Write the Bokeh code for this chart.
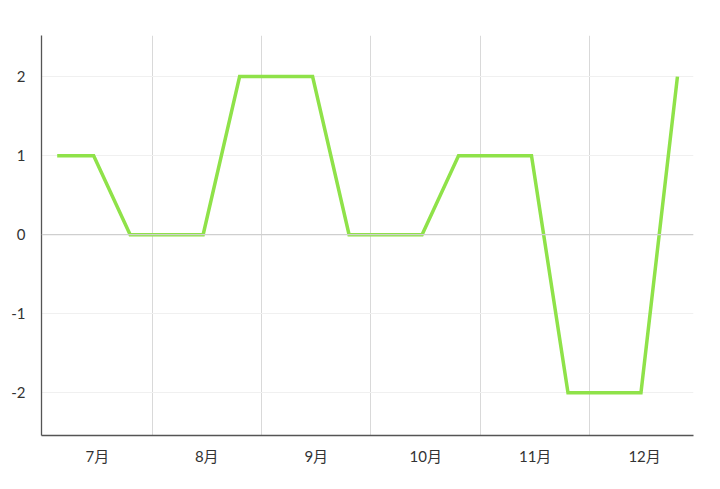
from bokeh.plotting import figure
from bokeh.models import FixedTicker, Span, Range1d
from bokeh.embed import file_html
from bokeh.resources import INLINE

months = ["7月", "8月", "9月", "10月", "11月", "12月"]
points_per_month = 3
values = [1, 1, 0, 0, 0, 2, 2, 2, 0, 0, 0, 1, 1, 1, -2, -2, -2, 2]
y_ticks = [-2, -1, 0, 1, 2]
y_labels = ["-2", "-1", "0", "1", "2"]

xs = [i + 0.5 for i in range(len(values))]
n = len(months) * points_per_month
band_shift = 0.1  # month bands sit slightly right of the point grid in the original

FONT = "Lato, 'Noto Sans CJK SC', sans-serif"

p = figure(width=712, height=481, output_backend="svg", toolbar_location=None,
           x_range=Range1d(0.07, n - 0.06), y_range=Range1d(-2.54, 2.52),
           min_border_left=41, min_border_right=19, min_border_top=35, min_border_bottom=46)
p.outline_line_color = None
p.background_fill_color = "white"
p.border_fill_color = "white"

p.line(xs, values, line_color="#8fe249", line_width=3.5, line_join="miter")

# x axis: labels at month centers, grid at month boundaries
centers = [points_per_month * i + points_per_month / 2 + band_shift for i in range(len(months))]
p.xaxis.ticker = FixedTicker(ticks=centers)
p.xaxis.major_label_overrides = {c: m for c, m in zip(centers, months)}
p.xgrid.ticker = FixedTicker(ticks=[points_per_month * i + band_shift for i in range(1, len(months))])
p.xgrid.grid_line_color = "#d9d9d9"
p.xgrid.grid_line_width = 1

p.yaxis.ticker = FixedTicker(ticks=y_ticks)
p.yaxis.major_label_overrides = {t: s for t, s in zip(y_ticks, y_labels)}
p.ygrid.grid_line_color = "#f0f0f0"
p.ygrid.grid_line_width = 1

p.add_layout(Span(location=0, dimension="width", line_color="#cfcfcf", line_width=1.2))

for ax in (p.xaxis, p.yaxis):
    ax.axis_line_color = "#555555"
    ax.axis_line_width = 1.3
    ax.major_tick_line_color = None
    ax.minor_tick_line_color = None
    ax.major_label_text_font = FONT
    ax.major_label_text_font_size = "15px"
    ax.major_label_text_color = "#333333"

p.xaxis.major_label_standoff = 5
p.yaxis.major_label_standoff = 10

open("out.html", "w").write(file_html(p, INLINE))
